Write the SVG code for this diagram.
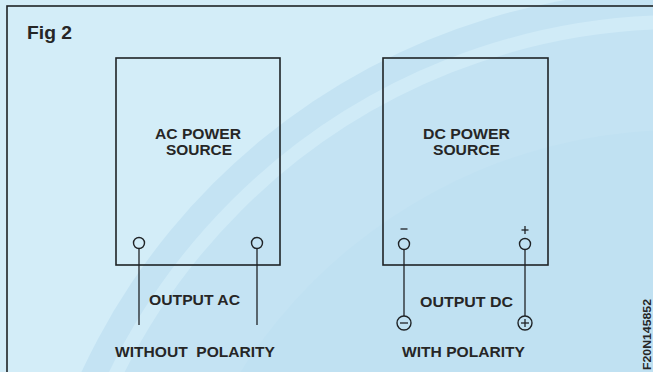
<svg xmlns="http://www.w3.org/2000/svg" width="653" height="372" viewBox="0 0 653 372">
<defs>
<style>
.t{font-family:"Liberation Sans",Arial,sans-serif;font-weight:bold;fill:#262626;}
.box{fill:none;stroke:#1f2326;stroke-width:1.6;}
.w{stroke:#1f2326;stroke-width:1.3;fill:none;}
.term{stroke:#1f2326;stroke-width:1.4;fill:none;}
</style>
<clipPath id="c"><rect x="0" y="0" width="653" height="372"/></clipPath>
</defs>
<rect x="0" y="0" width="653" height="372" fill="#d3edf8"/>
<g id="watermark" clip-path="url(#c)">
<circle cx="680" cy="650" r="660" fill="#c4e3f3"/>
<circle cx="680" cy="650" r="628" fill="none" stroke="#d0ebf7" stroke-width="14"/>
<circle cx="680" cy="650" r="520" fill="#c0e1f2"/>
</g>
<rect x="7" y="6" width="700" height="420" fill="none" stroke="#1f2326" stroke-width="1.6"/>
<text class="t" x="27" y="39" font-size="19" textLength="45" lengthAdjust="spacingAndGlyphs">Fig 2</text>

<g id="ac-source">
<rect class="box" x="116" y="58" width="164" height="207"/>
<text class="t" x="155" y="139" font-size="15" textLength="86" lengthAdjust="spacingAndGlyphs">AC POWER</text>
<text class="t" x="166" y="155" font-size="15" textLength="66" lengthAdjust="spacingAndGlyphs">SOURCE</text>
<circle class="term" cx="139" cy="243" r="5.5"/>
<circle class="term" cx="257" cy="243" r="5.5"/>
</g>

<g id="dc-source">
<rect class="box" x="383" y="58" width="165" height="207"/>
<text class="t" x="423" y="139" font-size="15" textLength="87" lengthAdjust="spacingAndGlyphs">DC POWER</text>
<text class="t" x="433" y="155" font-size="15" textLength="67" lengthAdjust="spacingAndGlyphs">SOURCE</text>
<circle class="term" cx="404" cy="244" r="5.5"/>
<circle class="term" cx="525" cy="244" r="5.5"/>
<line class="w" x1="400.5" y1="229" x2="407.5" y2="229"/>
<line class="w" x1="521.5" y1="230" x2="528.5" y2="230"/>
<line class="w" x1="525" y1="226" x2="525" y2="234"/>
</g>

<g id="dc-neg-terminal">
<circle class="term" cx="404" cy="323" r="7"/>
<line class="w" x1="400" y1="323" x2="408" y2="323"/>
</g>
<g id="dc-pos-terminal">
<circle class="term" cx="525" cy="323" r="7"/>
<line class="w" x1="521" y1="323" x2="529" y2="323"/>
<line class="w" x1="525" y1="319" x2="525" y2="327"/>
</g>

<g id="connectors">
<line class="w" x1="139" y1="248.5" x2="139" y2="325"/>
<line class="w" x1="257" y1="248.5" x2="257" y2="325"/>
<line class="w" x1="404" y1="249.5" x2="404" y2="316"/>
<line class="w" x1="525" y1="249.5" x2="525" y2="316"/>
</g>

<g id="labels">
<text class="t" x="149" y="305" font-size="14" textLength="91" lengthAdjust="spacingAndGlyphs">OUTPUT AC</text>
<text class="t" x="420" y="307" font-size="14" textLength="93" lengthAdjust="spacingAndGlyphs">OUTPUT DC</text>
<text class="t" x="115" y="357" font-size="15.5" textLength="160" lengthAdjust="spacingAndGlyphs" xml:space="preserve">WITHOUT  POLARITY</text>
<text class="t" x="402" y="357" font-size="15.5" textLength="123" lengthAdjust="spacingAndGlyphs">WITH POLARITY</text>
<text class="t" font-size="11.5" textLength="71" lengthAdjust="spacingAndGlyphs" transform="translate(651,370) rotate(-90)">F20N145852</text>
</g>
</svg>
